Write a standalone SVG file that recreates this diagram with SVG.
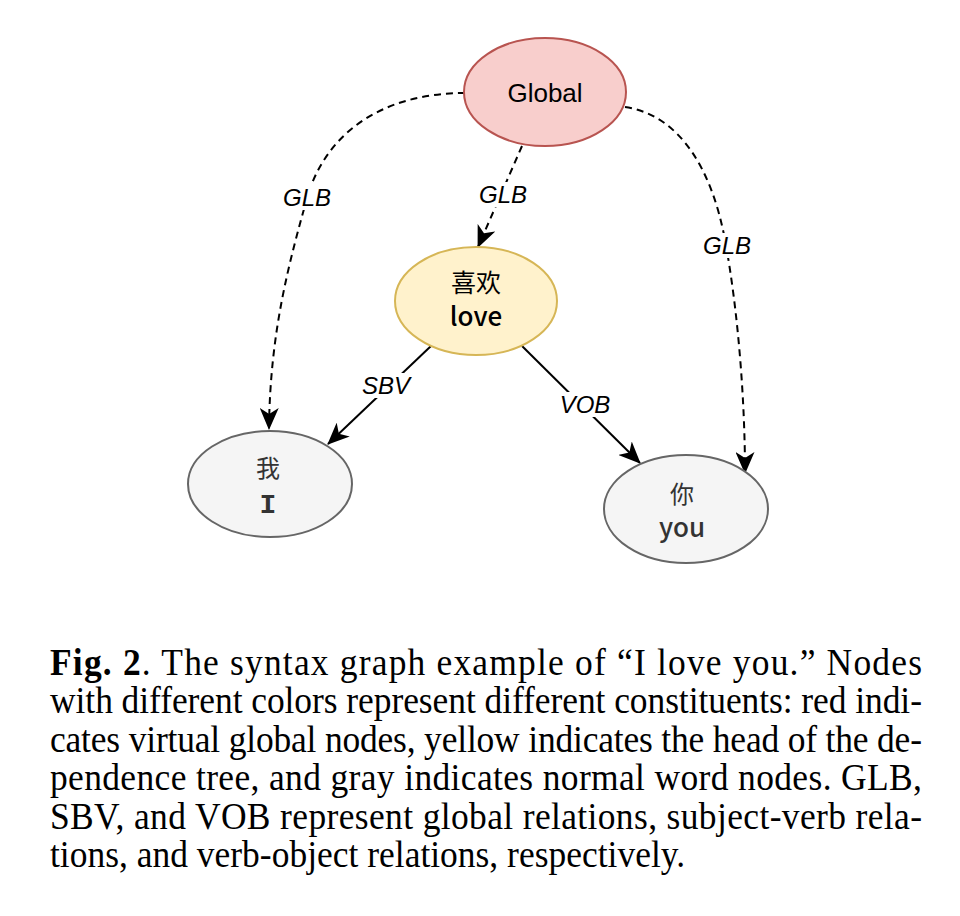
<svg xmlns="http://www.w3.org/2000/svg" width="960" height="916" viewBox="0 0 960 916">
<style>
.edge{fill:none;stroke:#000;stroke-width:2}
.dash{stroke-dasharray:7 5}
.lbl{font-family:"Liberation Sans",Arial,sans-serif;font-style:italic;font-size:24px;fill:#000;text-anchor:middle}
.lblbg{fill:#fff}
.ntxt{font-family:"Noto Sans CJK SC","Noto Sans",sans-serif;text-anchor:middle}
.cap{font-family:"Liberation Serif","Times New Roman",serif;font-size:38px;fill:#000}
</style>
<defs>
<marker id="arr" markerUnits="userSpaceOnUse" markerWidth="22" markerHeight="19" viewBox="0 0 22 19" refX="21" refY="9.5" orient="auto">
<path d="M0,0 L22,9.5 L0,19 L6,9.5 Z" fill="#000"/>
</marker>
</defs>
<rect width="960" height="916" fill="#fff"/>
<g id="connectors">
<path class="edge dash" d="M465,93 C380,93 325,135 307,198 C290,260 270,330 269,429" marker-end="url(#arr)"/>
<path class="edge dash" d="M625,107 C680,115 712,170 725,240 C738,310 745,400 745,473" marker-end="url(#arr)"/>
<path class="edge dash" d="M522,146 L478,247" marker-end="url(#arr)"/>
<path class="edge" d="M431,346 L328,444" marker-end="url(#arr)"/>
<path class="edge" d="M522,346 L640,463" marker-end="url(#arr)"/>
<rect class="lblbg" x="281" y="185" width="52" height="25"/>
<text class="lbl" x="307" y="206">GLB</text>
<rect class="lblbg" x="477" y="182" width="52" height="25"/>
<text class="lbl" x="503" y="203">GLB</text>
<rect class="lblbg" x="701" y="233" width="52" height="25"/>
<text class="lbl" x="727" y="254">GLB</text>
<rect class="lblbg" x="359" y="373" width="54" height="25"/>
<text class="lbl" x="386" y="394">SBV</text>
<rect class="lblbg" x="557" y="392" width="56" height="25"/>
<text class="lbl" x="585" y="413">VOB</text>
</g>
<g id="node-global">
<ellipse cx="545" cy="92" rx="81" ry="54" fill="#f8cecc" stroke="#b85450" stroke-width="2"/>
<text x="545" y="102" font-family="'Liberation Sans',Arial,sans-serif" font-size="26" text-anchor="middle" fill="#000">Global</text>
</g>
<g id="node-love">
<ellipse cx="476" cy="301" rx="81" ry="54" fill="#fff2cc" stroke="#d6b656" stroke-width="2"/>
<text class="ntxt" x="476" y="292" font-size="25" fill="#000">喜欢</text>
<text class="ntxt" x="476" y="326" font-size="26" font-weight="500" fill="#000">love</text>
</g>
<g id="node-i">
<ellipse cx="270" cy="484" rx="82" ry="53" fill="#f5f5f5" stroke="#666666" stroke-width="2"/>
<text class="ntxt" x="268" y="477" font-size="24" fill="#333333">我</text>
<text x="268" y="513" font-family="'Liberation Mono','DejaVu Sans Mono',monospace" font-weight="bold" font-size="28" text-anchor="middle" fill="#333333">I</text>
</g>
<g id="node-you">
<ellipse cx="686" cy="509" rx="82" ry="54" fill="#f5f5f5" stroke="#666666" stroke-width="2"/>
<text class="ntxt" x="682" y="503" font-size="24" fill="#333333">你</text>
<text class="ntxt" x="682" y="537" font-size="26" font-weight="500" fill="#333333">you</text>
</g>
<g id="caption" transform="translate(50,0) scale(0.934,1)">
<text class="cap" x="0" y="675" textLength="933.6" lengthAdjust="spacing"><tspan font-weight="bold">Fig. 2</tspan>.  The syntax graph example of “I love you.” Nodes</text>
<text class="cap" x="0" y="713.5" textLength="933.6" lengthAdjust="spacing">with different colors represent different constituents: red indi-</text>
<text class="cap" x="0" y="752" textLength="933.6" lengthAdjust="spacing">cates virtual global nodes, yellow indicates the head of the de-</text>
<text class="cap" x="0" y="790.5" textLength="933.6" lengthAdjust="spacing">pendence tree, and gray indicates normal word nodes. GLB,</text>
<text class="cap" x="0" y="829" textLength="933.6" lengthAdjust="spacing">SBV, and VOB represent global relations, subject-verb rela-</text>
<text class="cap" x="0" y="867.5">tions, and verb-object relations, respectively.</text>
</g>
</svg>
